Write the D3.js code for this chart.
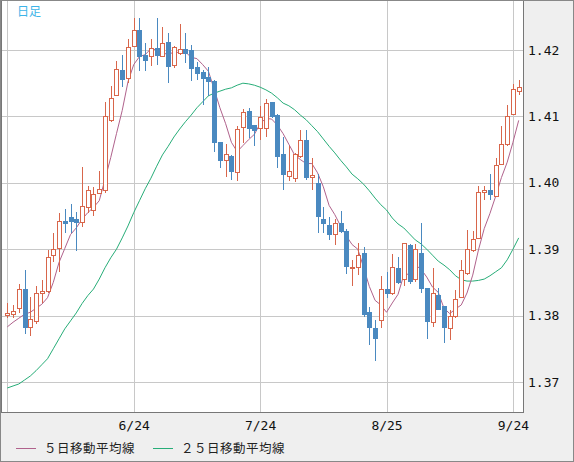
<!DOCTYPE html>
<html>
<head>
<meta charset="utf-8">
<script src="https://cdn.jsdelivr.net/npm/d3@7"></script>
<style>
  body { margin: 0; background: #fff; }
  svg { display: block; }
</style>
</head>
<body>
<svg id="chart" width="574" height="462"></svg>
<script>
// daily candles, oldest first
const opens = [1.3800,1.3802,1.3811,1.3839,1.3782,1.3791,1.3833,1.3836,1.3890,1.3901,
  1.3941,1.3948,1.3945,1.3940,1.3963,1.3959,1.3984,1.3988,1.4094,1.4132,
  1.4169,1.4157,1.4205,1.4230,1.4192,1.4190,1.4203,1.4190,1.4211,1.4176,
  1.4194,1.4201,1.4200,1.4173,1.4166,1.4159,1.4152,1.4060,1.4034,1.4040,
  1.4015,1.4083,1.4108,1.4086,1.4082,1.4082,1.4121,1.4102,1.4043,1.4010,
  1.4007,1.4040,1.4063,1.4008,1.3999,1.3944,1.3936,1.3922,1.3939,1.3927,
  1.3871,1.3873,1.3893,1.3805,1.3781,1.3792,1.3840,1.3834,1.3871,1.3854,
  1.3906,1.3855,1.3894,1.3841,1.3789,1.3830,1.3813,1.3781,1.3798,1.3828,
  1.3864,1.3898,1.3916,1.3986,1.3988,1.3980,1.4028,1.4057,1.4103,1.4138];
const highs = [1.3819,1.3816,1.3848,1.3869,1.3828,1.3844,1.3854,1.3899,1.3924,1.3954,
  1.3961,1.3968,1.3956,1.4024,1.3995,1.3993,1.4018,1.4122,1.4146,1.4183,
  1.4192,1.4217,1.4248,1.4248,1.4210,1.4216,1.4248,1.4235,1.4225,1.4206,
  1.4239,1.4225,1.4208,1.4182,1.4170,1.4175,1.4155,1.4061,1.4058,1.4042,
  1.4085,1.4111,1.4112,1.4087,1.4115,1.4126,1.4122,1.4103,1.4069,1.4056,
  1.4045,1.4080,1.4080,1.4037,1.4014,1.3964,1.3949,1.3945,1.3958,1.3930,
  1.3884,1.3910,1.3904,1.3813,1.3793,1.3860,1.3866,1.3893,1.3889,1.3910,
  1.3908,1.3908,1.3940,1.3842,1.3872,1.3841,1.3815,1.3808,1.3838,1.3884,
  1.3929,1.3928,1.3995,1.3995,1.4014,1.4038,1.4085,1.4117,1.4149,1.4155];
const lows = [1.3796,1.3796,1.3804,1.3772,1.3770,1.3788,1.3819,1.3834,1.3881,1.3866,
  1.3925,1.3925,1.3898,1.3934,1.3955,1.3950,1.3983,1.3985,1.4092,1.4131,
  1.4144,1.4150,1.4204,1.4169,1.4169,1.4176,1.4177,1.4189,1.4150,1.4173,
  1.4192,1.4180,1.4154,1.4155,1.4117,1.4130,1.4047,1.4022,1.4009,1.4004,
  1.4002,1.4060,1.4067,1.4056,1.4065,1.4069,1.4098,1.4022,1.3989,1.4002,
  1.4001,1.4037,1.4004,1.3989,1.3924,1.3924,1.3914,1.3907,1.3924,1.3863,
  1.3844,1.3861,1.3798,1.3755,1.3731,1.3782,1.3826,1.3831,1.3848,1.3844,
  1.3848,1.3850,1.3834,1.3765,1.3783,1.3808,1.3758,1.3764,1.3797,1.3827,
  1.3861,1.3896,1.3915,1.3974,1.3974,1.3979,1.4027,1.4056,1.4102,1.4132];
const closes = [1.3803,1.3806,1.3839,1.3782,1.3794,1.3833,1.3836,1.3888,1.3900,1.3942,
  1.3939,1.3941,1.3940,1.3965,1.3988,1.3983,1.3990,1.4100,1.4127,1.4171,
  1.4156,1.4204,1.4230,1.4190,1.4184,1.4203,1.4191,1.4210,1.4175,1.4204,
  1.4201,1.4195,1.4172,1.4164,1.4157,1.4152,1.4060,1.4034,1.4042,1.4017,
  1.4080,1.4106,1.4082,1.4079,1.4099,1.4120,1.4100,1.4039,1.4012,1.4017,
  1.4043,1.4064,1.4008,1.4011,1.3949,1.3938,1.3922,1.3938,1.3926,1.3874,
  1.3873,1.3891,1.3802,1.3782,1.3765,1.3840,1.3834,1.3873,1.3850,1.3908,
  1.3851,1.3900,1.3841,1.3791,1.3834,1.3809,1.3782,1.3798,1.3825,1.3868,
  1.3899,1.3915,1.3986,1.3988,1.3983,1.4026,1.4058,1.4100,1.4140,1.4144];

// 5-day and 25-day moving averages
const ma5 = [1.3783,1.3790,1.3796,1.3802,1.3805,1.3811,1.3817,1.3827,1.3850,1.3880,
  1.3901,1.3922,1.3932,1.3945,1.3955,1.3963,1.3973,1.4005,1.4038,1.4074,
  1.4109,1.4152,1.4178,1.4190,1.4193,1.4202,1.4200,1.4196,1.4193,1.4197,
  1.4196,1.4197,1.4189,1.4187,1.4178,1.4168,1.4141,1.4113,1.4089,1.4061,
  1.4047,1.4056,1.4065,1.4073,1.4089,1.4097,1.4096,1.4087,1.4074,1.4058,
  1.4042,1.4035,1.4029,1.4029,1.4015,1.3994,1.3966,1.3952,1.3935,1.3920,
  1.3907,1.3900,1.3873,1.3844,1.3823,1.3816,1.3805,1.3819,1.3832,1.3861,
  1.3863,1.3876,1.3870,1.3858,1.3843,1.3835,1.3811,1.3803,1.3810,1.3816,
  1.3834,1.3861,1.3899,1.3931,1.3954,1.3980,1.4008,1.4031,1.4061,1.4094];
const ma25 = [1.3691,1.3694,1.3697,1.3703,1.3709,1.3717,1.3726,1.3735,1.3750,1.3765,
  1.3780,1.3792,1.3804,1.3818,1.3830,1.3840,1.3855,1.3872,1.3887,1.3900,
  1.3917,1.3935,1.3955,1.3973,1.3991,1.4007,1.4025,1.4042,1.4055,1.4069,
  1.4081,1.4092,1.4102,1.4113,1.4122,1.4131,1.4135,1.4138,1.4141,1.4143,
  1.4147,1.4150,1.4149,1.4147,1.4144,1.4140,1.4135,1.4128,1.4120,1.4116,
  1.4110,1.4102,1.4095,1.4086,1.4077,1.4066,1.4055,1.4045,1.4034,1.4024,
  1.4013,1.4006,1.3998,1.3988,1.3977,1.3967,1.3959,1.3947,1.3938,1.3932,
  1.3923,1.3914,1.3908,1.3900,1.3891,1.3882,1.3876,1.3869,1.3860,1.3854,
  1.3852,1.3852,1.3853,1.3855,1.3860,1.3866,1.3872,1.3884,1.3900,1.3917];

const dateTicks = [0, 22, 44, 66, 88];
const dateLabels = ["", "6/24", "7/24", "8/25", "9/24"];
const priceTicks = [1.37, 1.38, 1.39, 1.40, 1.41, 1.42];

const W = 574, H = 462;
const plotR = 523, plotB = 412;
const upColor = "#d8664b", downColor = "#4a89c0";

const svg = d3.select("#chart");
const x = d3.scaleLinear().domain([0, closes.length - 1]).range([7.3, 518.7]);
const y = d3.scaleLinear().domain([1.37, 1.42]).range([382, 50]);

// panels
svg.append("rect").attr("width", W).attr("height", H).attr("fill", "#efefef");
svg.append("rect").attr("x", 1).attr("y", 1).attr("width", plotR - 1).attr("height", plotB - 1).attr("fill", "#fff");

// grid
const grid = svg.append("g").attr("stroke", "#c8c8c8").attr("shape-rendering", "crispEdges");
grid.selectAll(".h").data(priceTicks).join("line")
  .attr("x1", 1).attr("x2", plotR).attr("y1", d => Math.round(y(d)) + 0.5).attr("y2", d => Math.round(y(d)) + 0.5);
grid.selectAll(".v").data(dateTicks).join("line")
  .attr("y1", 1).attr("y2", plotB).attr("x1", d => Math.round(x(d)) + 0.5).attr("x2", d => Math.round(x(d)) + 0.5);

// moving averages
const maLine = d3.line().x((d, i) => x(i)).y(d => y(d));
svg.append("path").datum(ma25).attr("d", maLine).attr("fill", "none").attr("stroke", "#27ad78").attr("stroke-width", 1);
svg.append("path").datum(ma5).attr("d", maLine).attr("fill", "none").attr("stroke", "#b0628c").attr("stroke-width", 1);

// candles
const idx = d3.range(closes.length);
const candles = svg.append("g").attr("shape-rendering", "crispEdges");
candles.selectAll("line").data(idx).join("line")
  .attr("x1", i => Math.round(x(i)) + 0.5).attr("x2", i => Math.round(x(i)) + 0.5)
  .attr("y1", i => y(highs[i])).attr("y2", i => y(lows[i]))
  .attr("stroke", i => closes[i] >= opens[i] ? upColor : downColor);
candles.selectAll("rect").data(idx).join("rect")
  .attr("x", i => Math.round(x(i)) - 2 + 0.5)
  .attr("width", 4)
  .attr("y", i => y(Math.max(opens[i], closes[i])))
  .attr("height", i => Math.max(1, Math.abs(y(opens[i]) - y(closes[i]))))
  .attr("fill", i => closes[i] >= opens[i] ? "#fff" : downColor)
  .attr("stroke", i => closes[i] >= opens[i] ? upColor : downColor);

// plot border
svg.append("path").attr("d", `M1,0.5V${plotB + 0.5}H${plotR + 0.5}V0.5`).attr("fill", "none")
  .attr("stroke", "#777").attr("shape-rendering", "crispEdges");
svg.append("rect").attr("x", 0.5).attr("y", 0.5).attr("width", W - 1).attr("height", H - 1)
  .attr("fill", "none").attr("stroke", "#888");

// axis labels
const mono = "'DejaVu Sans Mono', monospace";
svg.selectAll(".pt").data(priceTicks).join("text")
  .attr("x", 528).attr("y", d => y(d)).attr("dy", "0.35em")
  .attr("font-family", mono).attr("font-size", 13).attr("fill", "#111")
  .text(d => d.toFixed(2));
svg.selectAll(".dt").data(dateTicks).join("text")
  .attr("x", d => x(d) + 0.5).attr("y", 430).attr("text-anchor", "middle")
  .attr("font-family", mono).attr("font-size", 13).attr("fill", "#111")
  .text((d, i) => dateLabels[i]);

// title
svg.append("text").attr("x", 17).attr("y", 16).attr("font-family", "'Noto Sans CJK JP'")
  .attr("font-size", 12).attr("fill", "#3db4e8").text("日足");

// legend
const legend = [["５日移動平均線", "#b0628c", 16], ["２５日移動平均線", "#27ad78", 153]];
legend.forEach(([label, color, lx]) => {
  svg.append("line").attr("x1", lx).attr("x2", lx + 20).attr("y1", 448.5).attr("y2", 448.5).attr("stroke", color);
  svg.append("text").attr("x", lx + 28).attr("y", 453).attr("font-family", "'Noto Sans CJK JP'")
    .attr("font-size", 12.5).attr("letter-spacing", 0.5).attr("fill", "#222").text(label);
});
</script>
</body>
</html>
